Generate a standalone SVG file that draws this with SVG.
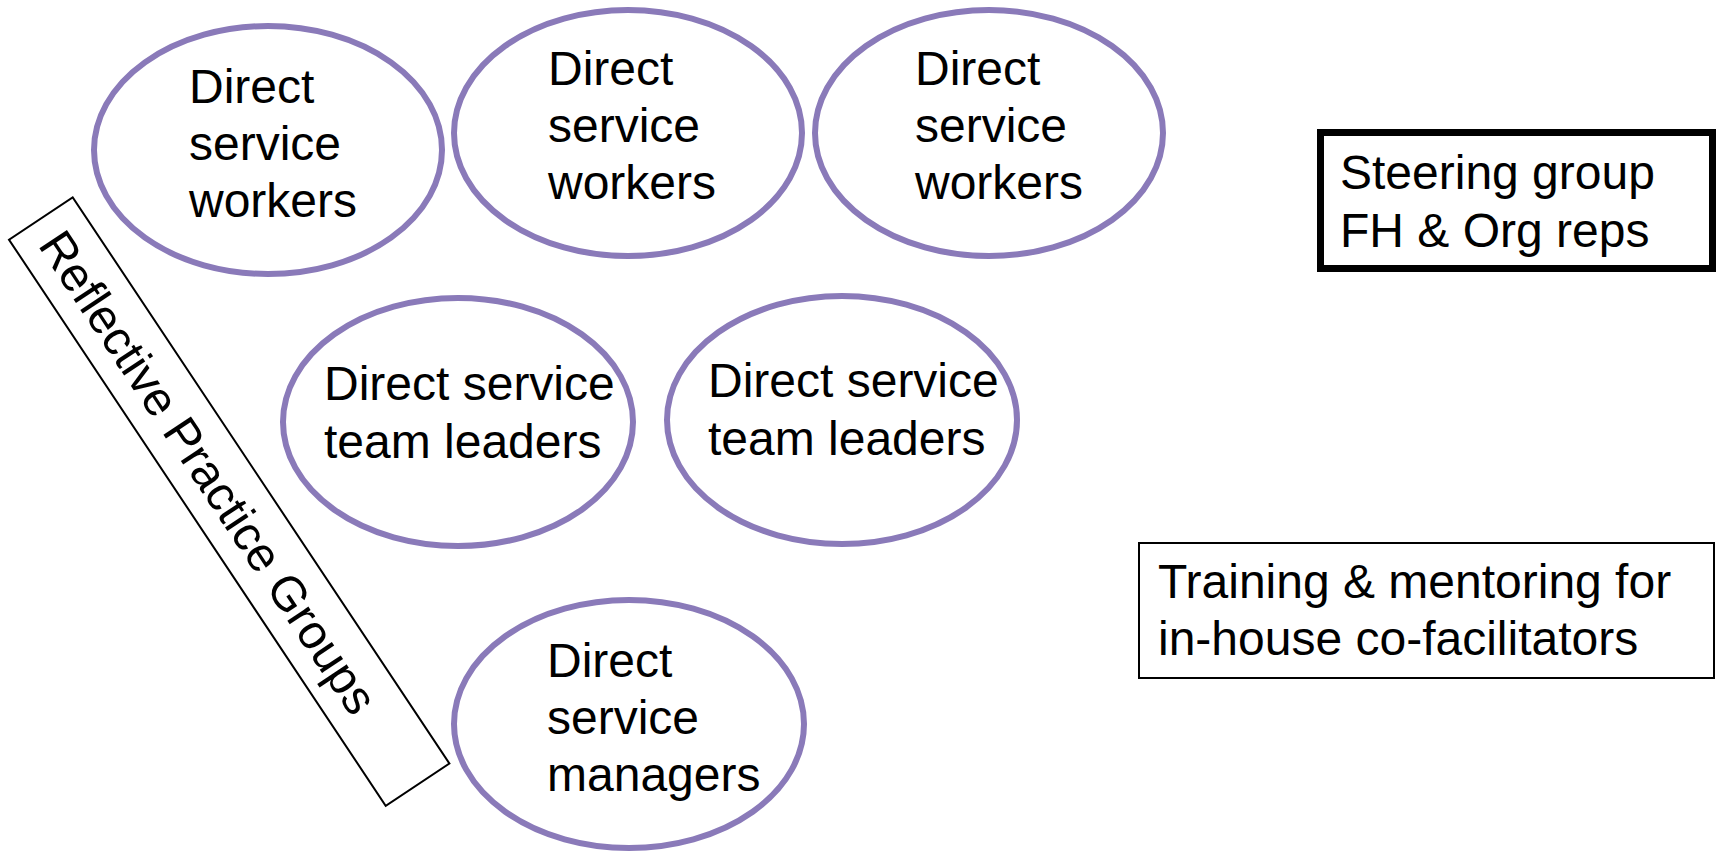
<svg xmlns="http://www.w3.org/2000/svg" width="1721" height="851" viewBox="0 0 1721 851">
<style>
.ell{fill:#fff;stroke:#8A7AB9;stroke-width:6}
.t{font-family:"Liberation Sans",Arial,sans-serif;font-size:48px;fill:#000}
.box{fill:#fff;stroke:#000}
</style>
<rect width="1721" height="851" fill="#fff"/>
<g id="connectors"></g>
<g id="rpg" transform="translate(72.7,197.3) rotate(56.36)">
<rect class="box" x="0" y="0" width="680" height="76.5" stroke-width="2"/>
<text class="t" x="20" y="56">Reflective Practice Groups</text>
</g>
<g id="dsw1">
<ellipse class="ell" cx="268" cy="150" rx="174" ry="124"/>
<text class="t"><tspan x="189" y="103">Direct</tspan><tspan x="189" y="160">service</tspan><tspan x="189" y="217">workers</tspan></text>
</g>
<g id="dsw2">
<ellipse class="ell" cx="628" cy="133" rx="174" ry="123"/>
<text class="t"><tspan x="548" y="85">Direct</tspan><tspan x="548" y="142">service</tspan><tspan x="548" y="199">workers</tspan></text>
</g>
<g id="dsw3">
<ellipse class="ell" cx="989" cy="133" rx="174" ry="123"/>
<text class="t"><tspan x="915" y="85">Direct</tspan><tspan x="915" y="142">service</tspan><tspan x="915" y="199">workers</tspan></text>
</g>
<g id="dstl1">
<ellipse class="ell" cx="458" cy="422" rx="175" ry="124"/>
<text class="t"><tspan x="324" y="400">Direct service</tspan><tspan x="324" y="458">team leaders</tspan></text>
</g>
<g id="dstl2">
<ellipse class="ell" cx="842" cy="420" rx="175" ry="124"/>
<text class="t"><tspan x="708" y="397">Direct service</tspan><tspan x="708" y="455">team leaders</tspan></text>
</g>
<g id="dsm">
<ellipse class="ell" cx="629" cy="724" rx="175" ry="124"/>
<text class="t"><tspan x="547" y="677">Direct</tspan><tspan x="547" y="734">service</tspan><tspan x="547" y="791">managers</tspan></text>
</g>
<g id="steering">
<rect class="box" x="1320.5" y="132.5" width="392" height="136" stroke-width="7"/>
<text class="t"><tspan x="1340" y="189">Steering group</tspan><tspan x="1340" y="247">FH &amp; Org reps</tspan></text>
</g>
<g id="training">
<rect class="box" x="1139" y="543" width="575" height="135" stroke-width="2"/>
<text class="t"><tspan x="1158" y="598">Training &amp; mentoring for</tspan><tspan x="1158" y="655">in-house co-facilitators</tspan></text>
</g>
</svg>
